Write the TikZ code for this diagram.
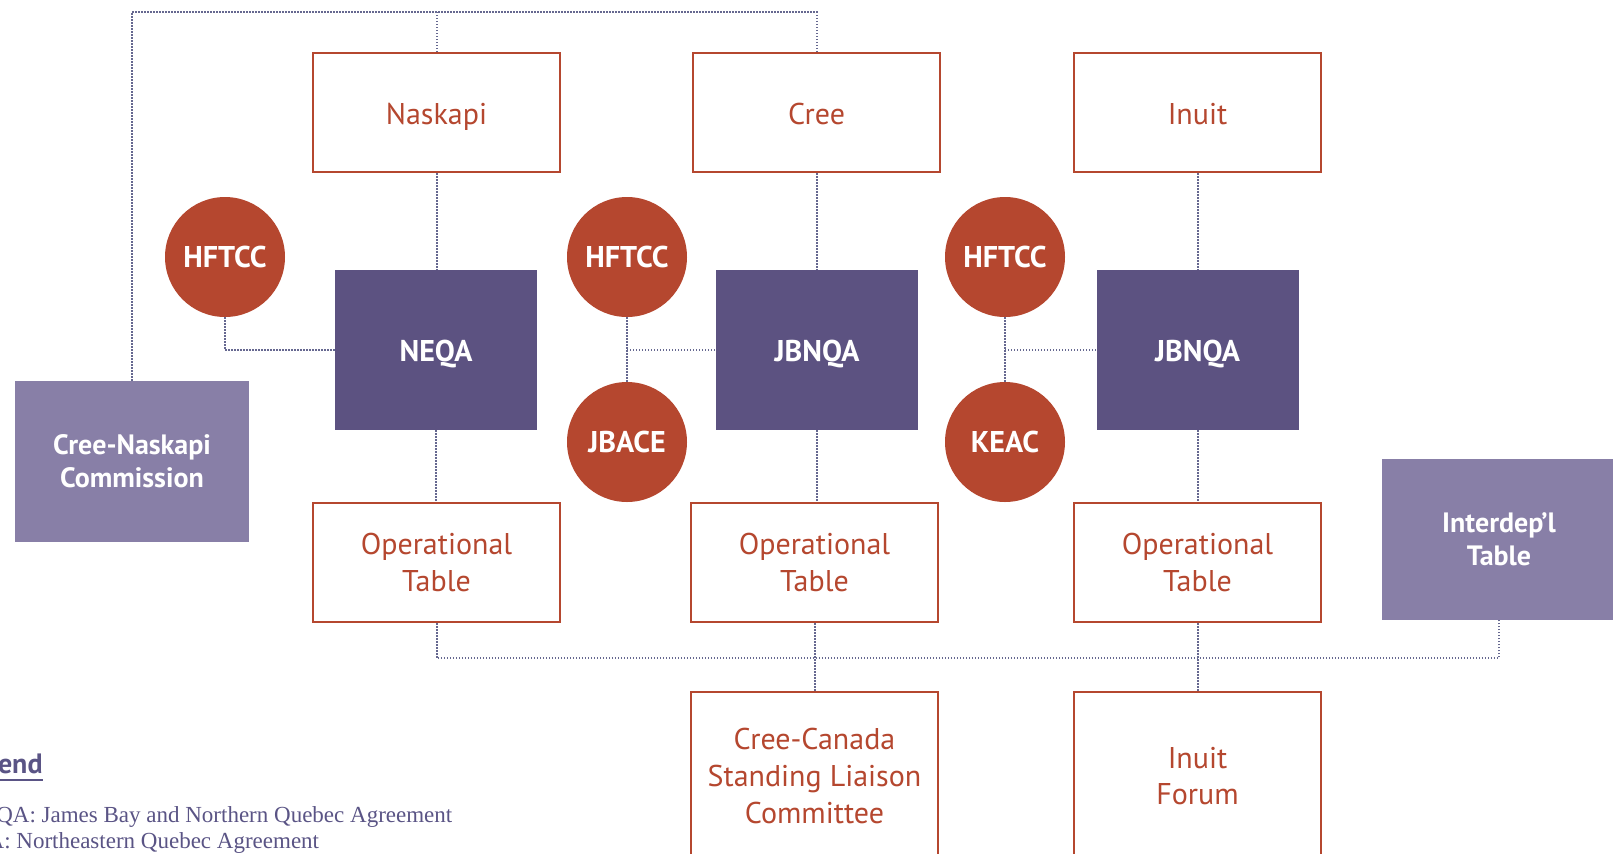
\documentclass[tikz,border=0pt]{standalone}
\usepackage{fontspec}
\setmainfont{PT Sans}
\newfontfamily\legfont{Liberation Serif}
\definecolor{rust}{HTML}{B5472F}
\definecolor{dpurple}{HTML}{5C5281}
\definecolor{lpurple}{HTML}{887FA7}
\definecolor{linkc}{HTML}{666890}
\definecolor{legc}{HTML}{5A5485}
\begin{document}
\begin{tikzpicture}[x=0.5pt,y=-0.5pt,
  outbox/.style={draw=rust, line width=1.25pt, fill=white, text=rust, minimum width=123.5pt, minimum height=59.5pt, font=\fontsize{15}{18.5}\selectfont, align=center, inner sep=0pt},
  oneline/.style={text height=13pt, text depth=1pt},
  agree/.style={fill=dpurple, text=white, minimum width=101pt, minimum height=80pt, font=\bfseries\fontsize{15}{18}\selectfont, inner sep=0pt, text height=12.5pt, text depth=1pt},
  circ/.style={circle, fill=rust, text=white, minimum size=60pt, inner sep=0pt, font=\bfseries\fontsize{15}{18}\selectfont, text height=12pt, text depth=2pt},
  side/.style={fill=lpurple, text=white, minimum width=117pt, minimum height=80.5pt, font=\bfseries\fontsize{14}{16.5}\selectfont, align=center, inner sep=0pt},
  link/.style={draw=linkc, line width=1pt, dash pattern=on 0.7pt off 0.8pt}]
\useasboundingbox (0,0) rectangle (1613,853);
\clip (0,0) rectangle (1613,853);

% top row
\node[outbox, oneline] (naskapi) at (436.5,112.5) {Naskapi};
\node[outbox, oneline] (cree) at (816.5,112.5) {Cree};
\node[outbox, oneline] (inuit) at (1197.5,112.5) {Inuit};

% agreements
\node[agree] (neqa) at (436,350) {NEQA};
\node[agree] (jbnqa1) at (817,350) {JBNQA};
\node[agree] (jbnqa2) at (1197.5,350) {JBNQA};

% circles
\node[circ] (hf1) at (225,257) {HFTCC};
\node[circ] (hf2) at (627,257) {HFTCC};
\node[circ] (hf3) at (1005,257) {HFTCC};
\node[circ] (jbace) at (627,442) {JBACE};
\node[circ] (keac) at (1005,442) {KEAC};

% side boxes
\node[side] (cnc) at (132,461.5) {Cree-Naskapi\\Commission};
\node[side] (idt) at (1499,539.5) {Interdep’l\\Table};

% operational tables
\node[outbox] (op1) at (436.5,562.5) {Operational\\Table};
\node[outbox] (op2) at (814.5,562.5) {Operational\\Table};
\node[outbox] (op3) at (1197.5,562.5) {Operational\\Table};

% bottom
\node[outbox, minimum height=84pt, font=\fontsize{15}{18.3}\selectfont] (cc) at (814.5,776) {Cree-Canada\\Standing Liaison\\Committee};
\node[outbox, minimum height=84pt, font=\fontsize{15}{18.3}\selectfont] (forum) at (1197.5,776) {Inuit\\Forum};

% connectors
\coordinate (top) at (0,12);
\coordinate (bus) at (0,658);
\draw[link] (cnc.north) |- (cree.north |- top) -- (cree.north);
\draw[link] (naskapi.north |- top) -- (naskapi.north);
\draw[link] (naskapi.south) -- (naskapi.south |- neqa.north);
\draw[link] (cree.south) -- (cree.south |- jbnqa1.north);
\draw[link] (inuit.south) -- (jbnqa2.north);
\draw[link] (hf1.south) |- (neqa.west);
\draw[link] (hf2.south) -- (jbace.north);
\draw[link] (hf2.south |- jbnqa1.west) -- (jbnqa1.west);
\draw[link] (hf3.south) -- (keac.north);
\draw[link] (hf3.south |- jbnqa2.west) -- (jbnqa2.west);
\draw[link] (neqa.south) -- (neqa.south |- op1.north);
\draw[link] (jbnqa1.south) -- (jbnqa1.south |- op2.north);
\draw[link] (jbnqa2.south) -- (op3.north);
\draw[link] (op1.south) |- (idt.south |- bus) -- (idt.south);
\draw[link] (op2.south) -- (cc.north);
\draw[link] (op3.south) -- (forum.north);

% legend
\node[anchor=base east, inner sep=0pt, text=legc, font=\bfseries\fontsize{14}{16}\selectfont] (leg) at (43,773) {Legend};
\draw[legc, line width=1.4pt] ([yshift=-3.5pt]leg.base west) -- ([yshift=-3.5pt]leg.base east);
\node[anchor=base west, inner sep=0pt, text=legc, font=\legfont\fontsize{11.5}{14}\selectfont] (l1) at (-45,822) {JBNQA: James Bay and Northern Quebec Agreement};
\node[anchor=base west, inner sep=0pt, text=legc, font=\legfont\fontsize{11.5}{14}\selectfont] (l2) at (-60,848) {NEQA: Northeastern Quebec Agreement};
\end{tikzpicture}
\end{document}
